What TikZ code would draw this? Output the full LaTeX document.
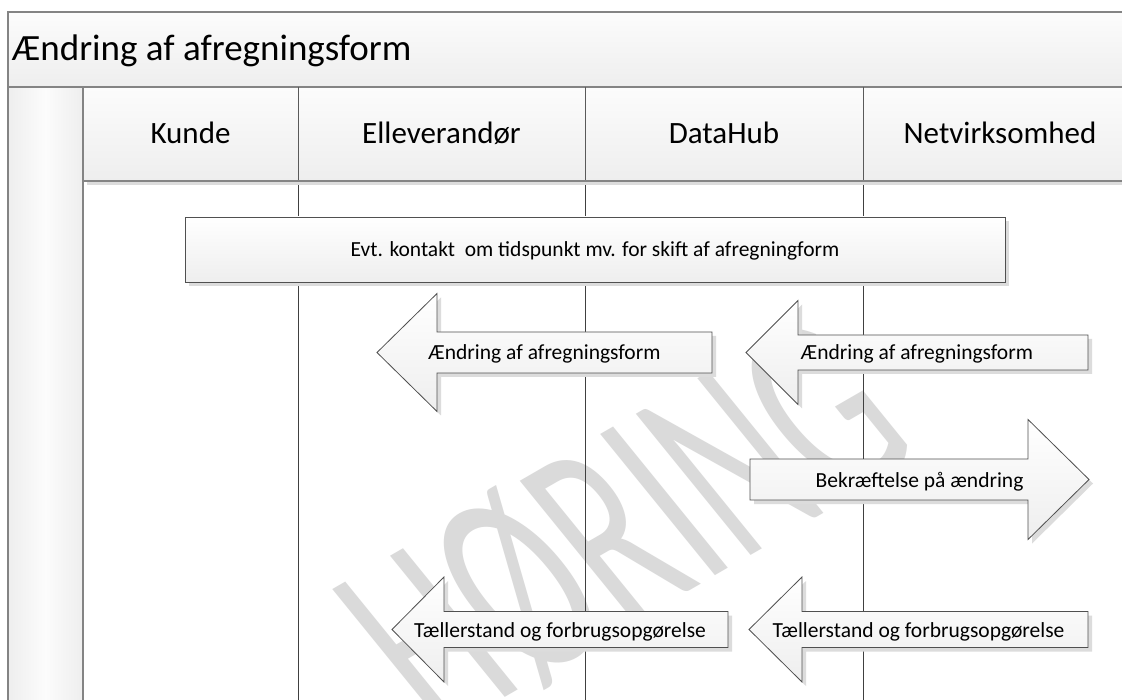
\documentclass[tikz,border=0pt]{standalone}
\usepackage{fontspec}
\setmainfont{Carlito}
\usetikzlibrary{shadows}
\definecolor{frameC}{RGB}{132,132,132}
\definecolor{divC}{RGB}{90,90,90}
\definecolor{laneC}{RGB}{64,64,64}
\definecolor{shapeC}{RGB}{80,80,80}
\definecolor{fillTop}{RGB}{252,252,252}
\definecolor{fillBot}{RGB}{238,238,238}
\definecolor{shadowC}{RGB}{220,220,220}
\definecolor{wmC}{RGB}{218,218,218}
\tikzset{
  frame/.style={draw=frameC, line width=1.3pt},
  band/.style={frame, top color=fillTop, bottom color=fillBot},
  lane/.style={draw=laneC, line width=0.9pt},
  hdiv/.style={draw=divC, line width=1pt},
  msg/.style={draw=shapeC, line width=0.8pt, top color=white, bottom color=fillBot,
    drop shadow={shadow xshift=4pt, shadow yshift=-4pt, fill=shadowC, opacity=1}},
  msgtext/.style={font=\fontsize{21.5}{24}\selectfont, inner sep=0pt},
  hdtext/.style={font=\fontsize{31}{36}\selectfont, inner sep=0pt},
  ttext/.style={font=\fontsize{37}{42}\selectfont, inner sep=0pt},
}
% left-pointing message: name, tipx, cy, basex, tailx, headhalf, shafthalf, text
\newcommand\MsgL[8]{%
  \path[msg] (#2,#3) -- (#4,#3-#6) -- (#4,#3-#7) -- (#5,#3-#7) -- (#5,#3+#7)
    -- (#4,#3+#7) -- (#4,#3+#6) -- cycle;
  \node[msgtext, anchor=base] (#1) at ({(#2+#5)/2},#3+7.5) {#8};
}
% right-pointing message: name, tailx, cy, basex, tipx, headhalf, shafthalf, text
\newcommand\MsgR[8]{%
  \path[msg] (#2,#3-#7) -- (#4,#3-#7) -- (#4,#3-#6) -- (#5,#3) -- (#4,#3+#6)
    -- (#4,#3+#7) -- (#2,#3+#7) -- cycle;
  \node[msgtext, anchor=base] (#1) at ({(#2+#5)/2},#3+7.5) {#8};
}
\begin{document}
\begin{tikzpicture}[x=1pt, y=-1pt]
\useasboundingbox (0,0) rectangle (1122,700);
\clip (0,0) rectangle (1122,700);
\fill[white] (0,0) rectangle (1122,700);
% watermark
\node[text=wmC, rotate=30, xslant=-0.16, xscale=0.6, inner sep=0pt,
      font=\fontsize{280}{280}\selectfont] (wm) at (626,527) {HØRING};
% lane lines
\coordinate (l1t) at (298,181); \coordinate (l1b) at (298,702);
\coordinate (l2t) at (585,181); \coordinate (l2b) at (585,702);
\coordinate (l3t) at (863,181); \coordinate (l3b) at (863,702);
\draw[lane] (l1t) -- (l1b);
\draw[lane] (l2t) -- (l2b);
\draw[lane] (l3t) -- (l3b);
% left column
\path[frame, left color=fillBot, right color=fillBot, middle color=fillTop]
  (8,87) rectangle (83,705);
% title band
\path[band] (8,12) rectangle (1140,87);
\node[ttext, anchor=base west] (title) at (12,61) {Ændring af afregningsform};
% header
\fill[shadowC] (87,181) rectangle (1140,185);
\path[band] (83,87) rectangle (1140,181);
\draw[hdiv] (298,87) -- (298,181);
\draw[hdiv] (585,87) -- (585,181);
\draw[hdiv] (863,87) -- (863,181);
\draw[frame] (83,181) -- (1140,181);
\node[hdtext, anchor=base] (kunde) at (190.5,144) {Kunde};
\node[hdtext, anchor=base] (elle) at (441.5,144) {Elleverandør};
\node[hdtext, anchor=base] (datahub) at (724,144) {DataHub};
\node[hdtext, anchor=base] (netv) at (1000,144) {Netvirksomhed};
% contact box
\path[msg] (185,217) rectangle (1005,282);
\node[msgtext, anchor=base] (evt) at (595,257)
  {Evt. kontakt\ \ om tidspunkt mv. for skift af afregningform};
% messages
\MsgL{m1}{377}{352.5}{437}{712}{59}{20.5}{Ændring af afregningsform}
\MsgL{m2}{746}{352.5}{798}{1088}{52}{17.5}{Ændring af afregningsform}
\MsgR{m3}{750}{479.5}{1028}{1089}{60}{20.5}{Bekræftelse på ændring}
\MsgL{m4}{392}{629.5}{444}{728}{52.5}{18}{Tællerstand og forbrugsopgørelse}
\MsgL{m5}{749}{629.5}{802}{1088}{52.5}{18}{Tællerstand og forbrugsopgørelse}
\end{tikzpicture}
\end{document}
